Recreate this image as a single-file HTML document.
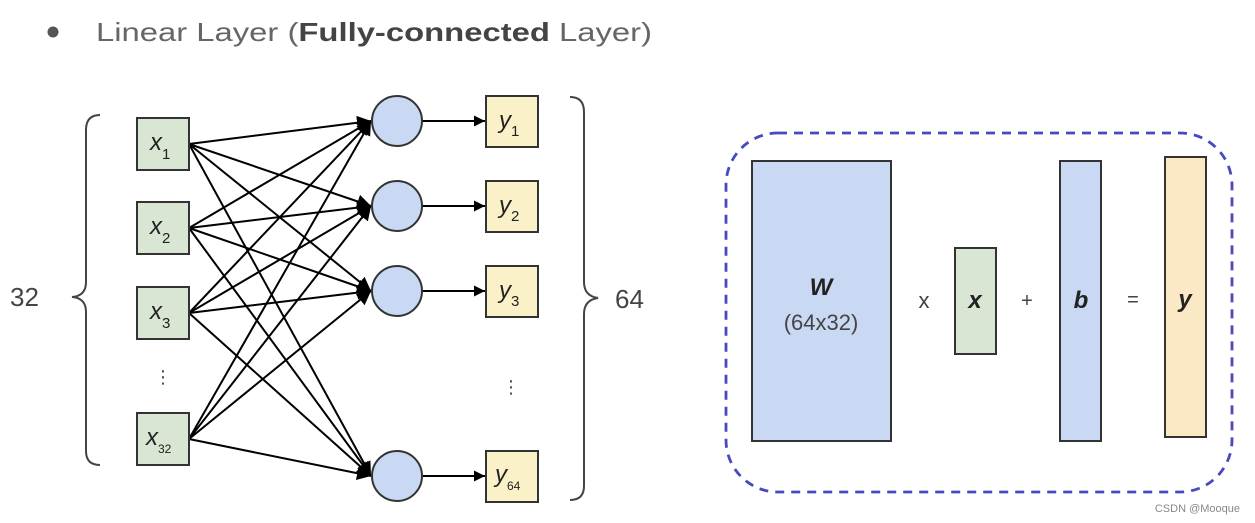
<!DOCTYPE html>
<html><head><meta charset="utf-8"><style>
html,body{margin:0;padding:0;background:#fff;}
svg{display:block;}
</style></head><body>
<svg width="1255" height="523" viewBox="0 0 1255 523" xmlns="http://www.w3.org/2000/svg" font-family="Liberation Sans, DejaVu Sans, sans-serif">
<defs>
<marker id="ah" viewBox="0 0 10 10" refX="10" refY="5" markerWidth="11" markerHeight="11" markerUnits="userSpaceOnUse" orient="auto">
<path d="M0,0 L10,5 L0,10 z" fill="#000"/>
</marker>
<marker id="ah2" viewBox="0 0 10 10" refX="10" refY="5" markerWidth="14" markerHeight="14" markerUnits="userSpaceOnUse" orient="auto">
<path d="M0,0 L10,5 L0,10 z" fill="#000"/>
</marker>
</defs>
<circle cx="53" cy="32" r="5.5" fill="#555"/>
<text x="96" y="41" font-size="26" fill="#666" textLength="556" lengthAdjust="spacingAndGlyphs">Linear Layer (<tspan font-weight="bold" fill="#444">Fully-connected</tspan> Layer)</text>

<g stroke="#000" stroke-width="2" marker-end="url(#ah2)">
<line x1="189" y1="144" x2="371" y2="121"/><line x1="189" y1="144" x2="371" y2="206"/><line x1="189" y1="144" x2="371" y2="291"/><line x1="189" y1="144" x2="371" y2="476"/>
<line x1="189" y1="228" x2="371" y2="121"/><line x1="189" y1="228" x2="371" y2="206"/><line x1="189" y1="228" x2="371" y2="291"/><line x1="189" y1="228" x2="371" y2="476"/>
<line x1="189" y1="313" x2="371" y2="121"/><line x1="189" y1="313" x2="371" y2="206"/><line x1="189" y1="313" x2="371" y2="291"/><line x1="189" y1="313" x2="371" y2="476"/>
<line x1="189" y1="439" x2="371" y2="121"/><line x1="189" y1="439" x2="371" y2="206"/><line x1="189" y1="439" x2="371" y2="291"/><line x1="189" y1="439" x2="371" y2="476"/>
</g>
<g stroke="#000" stroke-width="2" marker-end="url(#ah)">
<line x1="422" y1="121" x2="485" y2="121"/><line x1="422" y1="206" x2="485" y2="206"/><line x1="422" y1="291" x2="485" y2="291"/><line x1="422" y1="476" x2="485" y2="476"/>
</g>
<g fill="#d8e6d3" stroke="#333" stroke-width="2">
<rect x="137" y="118" width="52" height="52"/><rect x="137" y="202" width="52" height="52"/><rect x="137" y="287" width="52" height="52"/><rect x="137" y="413" width="52" height="52"/>
</g>
<g font-size="24" fill="#222" font-style="italic">
<text x="150" y="150">x<tspan font-size="15" font-style="normal" dy="9">1</tspan></text>
<text x="150" y="234">x<tspan font-size="15" font-style="normal" dy="9">2</tspan></text>
<text x="150" y="319">x<tspan font-size="15" font-style="normal" dy="9">3</tspan></text>
<text x="146" y="445">x<tspan font-size="12" font-style="normal" dy="8">32</tspan></text>
</g>
<text x="163" y="383" font-size="18" fill="#444" text-anchor="middle">⋮</text>
<g fill="#c9d9f3" stroke="#333" stroke-width="2">
<circle cx="397" cy="121" r="25"/><circle cx="397" cy="206" r="25"/><circle cx="397" cy="291" r="25"/><circle cx="397" cy="476" r="25"/>
</g>
<g fill="#fbf1c9" stroke="#333" stroke-width="2">
<rect x="486" y="96" width="52" height="51"/><rect x="486" y="181" width="52" height="51"/><rect x="486" y="266" width="52" height="51"/><rect x="486" y="451" width="52" height="51"/>
</g>
<g font-size="24" fill="#222" font-style="italic">
<text x="499" y="128">y<tspan font-size="15" font-style="normal" dy="8">1</tspan></text>
<text x="499" y="213">y<tspan font-size="15" font-style="normal" dy="8">2</tspan></text>
<text x="499" y="298">y<tspan font-size="15" font-style="normal" dy="8">3</tspan></text>
<text x="495" y="482">y<tspan font-size="12" font-style="normal" dy="8">64</tspan></text>
</g>
<text x="511" y="393" font-size="18" fill="#444" text-anchor="middle">⋮</text>
<path d="M100,115 Q86,115 86,130 L86,282 Q86,296 72,297 Q86,298 86,312 L86,451 Q86,465 100,465" fill="none" stroke="#444" stroke-width="2"/>
<text x="10" y="306" font-size="26" fill="#444">32</text>
<path d="M570,97 Q584,97 584,112 L584,282 Q584,296 598,298 Q584,300 584,314 L584,486 Q584,500 570,500" fill="none" stroke="#444" stroke-width="2"/>
<text x="615" y="308" font-size="26" fill="#444">64</text>

<rect x="726" y="133" width="506" height="359" rx="52" fill="none" stroke="#4848c0" stroke-width="2.8" stroke-dasharray="9,7"/>
<rect x="752" y="161" width="139" height="280" fill="#c9d9f3" stroke="#333" stroke-width="2"/>
<text x="821" y="295" font-size="24" font-weight="bold" font-style="italic" fill="#222" text-anchor="middle">W</text>
<text x="821" y="330" font-size="22" fill="#444" text-anchor="middle">(64x32)</text>
<text x="924" y="308" font-size="22" fill="#444" text-anchor="middle">x</text>
<rect x="955" y="248" width="41" height="106" fill="#d8e6d3" stroke="#333" stroke-width="2"/>
<text x="975" y="308" font-size="24" font-weight="bold" font-style="italic" fill="#222" text-anchor="middle">x</text>
<text x="1027" y="307" font-size="20" fill="#444" text-anchor="middle">+</text>
<rect x="1060" y="161" width="41" height="280" fill="#c9d9f3" stroke="#333" stroke-width="2"/>
<text x="1081" y="308" font-size="24" font-weight="bold" font-style="italic" fill="#222" text-anchor="middle">b</text>
<text x="1133" y="306" font-size="20" fill="#444" text-anchor="middle">=</text>
<rect x="1165" y="157" width="41" height="280" fill="#fbe9c6" stroke="#333" stroke-width="2"/>
<text x="1185" y="307" font-size="24" font-weight="bold" font-style="italic" fill="#222" text-anchor="middle">y</text>
<text x="1240" y="512" font-size="11" fill="#888" text-anchor="end">CSDN @Mooque</text>
</svg>
</body></html>
